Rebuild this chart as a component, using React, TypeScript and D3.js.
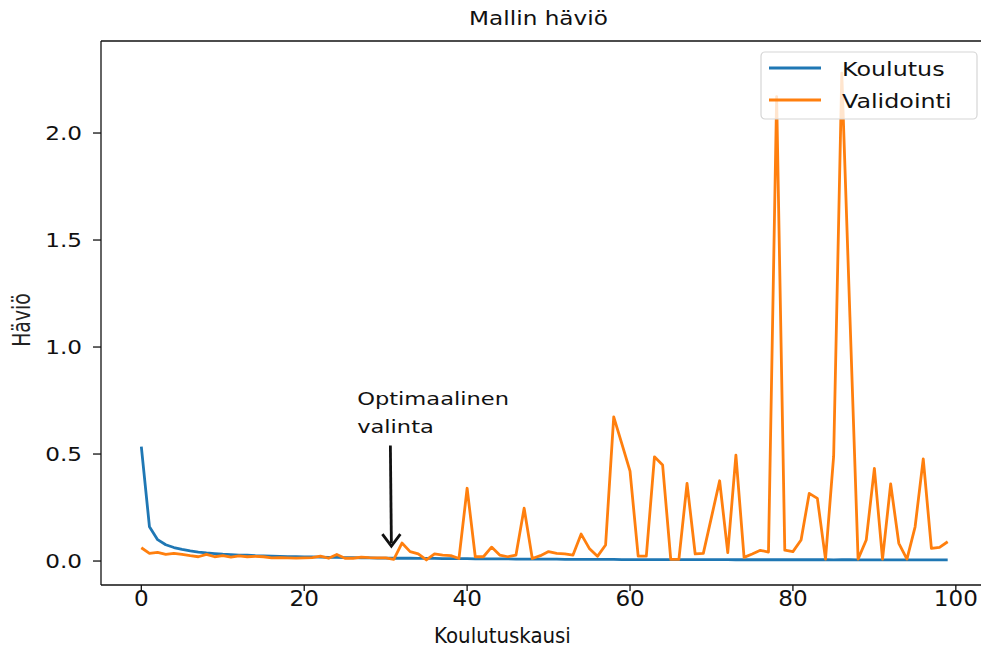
import * as d3 from "d3";

// epochs 0..99
const epochs: number[] = d3.range(100);

// training loss (Koulutus)
const trainLoss: number[] = [
  0.535, 0.16, 0.1, 0.076, 0.063, 0.054, 0.047, 0.042, 0.038, 0.035,
  0.032, 0.03, 0.028, 0.027, 0.025, 0.024, 0.023, 0.022, 0.021, 0.02,
  0.019, 0.019, 0.018, 0.017, 0.017, 0.016, 0.016, 0.015, 0.015, 0.014,
  0.014, 0.013, 0.013, 0.013, 0.012, 0.012, 0.012, 0.011, 0.011, 0.011,
  0.011, 0.01, 0.01, 0.01, 0.01, 0.01, 0.009, 0.009, 0.009, 0.009,
  0.009, 0.009, 0.008, 0.008, 0.008, 0.008, 0.008, 0.008, 0.008, 0.007,
  0.007, 0.007, 0.007, 0.007, 0.007, 0.007, 0.007, 0.007, 0.007, 0.007,
  0.007, 0.007, 0.007, 0.006, 0.006, 0.006, 0.006, 0.006, 0.007, 0.006,
  0.006, 0.006, 0.006, 0.006, 0.006, 0.005, 0.006, 0.006, 0.005, 0.005,
  0.005, 0.005, 0.005, 0.005, 0.005, 0.005, 0.005, 0.005, 0.005, 0.005,
];

// validation loss (Validointi)
const valLoss: number[] = [
  0.062, 0.036, 0.04, 0.031, 0.036, 0.031, 0.025, 0.02, 0.031, 0.02,
  0.025, 0.018, 0.024, 0.02, 0.022, 0.02, 0.015, 0.016, 0.015, 0.014,
  0.015, 0.016, 0.023, 0.013, 0.031, 0.013, 0.013, 0.018, 0.016, 0.015,
  0.015, 0.008, 0.084, 0.044, 0.033, 0.005, 0.033, 0.028, 0.025, 0.012,
  0.34, 0.02, 0.02, 0.065, 0.028, 0.02, 0.028, 0.247, 0.012, 0.025,
  0.044, 0.036, 0.033, 0.028, 0.126, 0.059, 0.022, 0.075, 0.674, 0.547,
  0.42, 0.023, 0.023, 0.487, 0.449, 0.008, 0.008, 0.363, 0.033, 0.036,
  0.205, 0.375, 0.039, 0.495, 0.017, 0.033, 0.05, 0.042, 2.17, 0.051,
  0.044, 0.098, 0.316, 0.293, 0.009, 0.49, 2.28, 1.14, 0.009, 0.098,
  0.433, 0.009, 0.36, 0.083, 0.009, 0.16, 0.477, 0.059, 0.064, 0.09,
];

const seriesNames = ["Koulutus", "Validointi"];
const seriesColors = ["#1f77b4", "#ff7f0e"];
const xTicks = [0, 20, 40, 60, 80, 100];
const yTicks = [0, 0.5, 1.0, 1.5, 2.0];

const W = 981;
const H = 649;
const left = 101;
const right = 988; // right spine falls just outside the picture
const top = 41;
const bottom = 585;
const SX = 1.22; // the picture is stretched horizontally
const FONT = "DejaVu Sans, Verdana, sans-serif";
const COND = "DejaVu Sans Condensed, Liberation Sans Narrow, DejaVu Sans, sans-serif";

export default function App() {
  const x = d3.scaleLinear().domain([-4.95, 103.95]).range([left, right]);
  const y = d3.scaleLinear().domain([-0.112, 2.43]).range([bottom, top]);

  const line = d3
    .line<number>()
    .x((_, i) => x(epochs[i]))
    .y((d) => y(d));

  const stretched = (tx: number, ty: number, extra = "") =>
    `translate(${tx},${ty}) scale(${SX},1)${extra}`;

  // annotation: optimal epoch
  const optEpoch = 30.7;
  const arrowTop = y(0.54);
  const arrowTip = y(0.07);

  return (
    <svg
      width={W}
      height={H}
      style={{ position: "absolute", left: 0, top: 0, background: "#fff" }}
    >
      <defs>
        <clipPath id="plot">
          <rect x={left} y={top} width={right - left} height={bottom - top} />
        </clipPath>
      </defs>

      {/* title */}
      <text
        transform={stretched((left + right) / 2 - 6, 25)}
        textAnchor="middle"
        fontFamily={FONT}
        fontSize={19}
        fill="#111"
      >
        Mallin häviö
      </text>

      {/* lines */}
      <g clipPath="url(#plot)" fill="none" strokeWidth={2.8} strokeLinejoin="round">
        <path d={line(trainLoss) || ""} stroke={seriesColors[0]} />
        <path d={line(valLoss) || ""} stroke={seriesColors[1]} />
      </g>

      {/* spines */}
      <g stroke="#111" strokeWidth={1.3} fill="none">
        <line x1={left} x2={left} y1={top} y2={bottom} />
        <line x1={left} x2={right} y1={top} y2={top} />
        <line x1={left} x2={right} y1={bottom} y2={bottom} />
        <line x1={right} x2={right} y1={top} y2={bottom} />
      </g>

      {/* y ticks */}
      {yTicks.map((t) => (
        <g key={"y" + t}>
          <line x1={left - 8} x2={left} y1={y(t)} y2={y(t)} stroke="#111" strokeWidth={1.3} />
          <text
            transform={stretched(82, y(t) + 7)}
            textAnchor="end"
            fontFamily={FONT}
            fontSize={19}
            fill="#111"
          >
            {d3.format(".1f")(t)}
          </text>
        </g>
      ))}

      {/* x ticks */}
      {xTicks.map((t) => (
        <g key={"x" + t}>
          <line x1={x(t)} x2={x(t)} y1={bottom} y2={bottom + 6} stroke="#111" strokeWidth={1.3} />
          <text
            transform={stretched(x(t), 606)}
            textAnchor="middle"
            fontFamily={COND}
            fontSize={21}
            fill="#111"
          >
            {t}
          </text>
        </g>
      ))}

      {/* axis labels */}
      <text
        x={(left + right) / 2 - 42}
        y={643}
        textAnchor="middle"
        fontFamily={COND}
        fontSize={22}
        fill="#111"
      >
        Koulutuskausi
      </text>
      <text
        transform={stretched(30, 320, " rotate(-90)")}
        textAnchor="middle"
        fontFamily={COND}
        fontSize={21}
        fill="#222"
      >
        Häviö
      </text>

      {/* annotation */}
      <g fontFamily={FONT} fontSize={18.5} fill="#111">
        <text transform={stretched(x(26.5), y(0.73))}>Optimaalinen</text>
        <text transform={stretched(x(26.5), y(0.73) + 28)}>valinta</text>
      </g>
      <line
        x1={x(optEpoch) - 1}
        y1={arrowTop}
        x2={x(optEpoch)}
        y2={arrowTip - 3}
        stroke="#111"
        strokeWidth={2.8}
      />
      <path
        d={`M${x(optEpoch) - 9},${arrowTip - 12} L${x(optEpoch)},${arrowTip} L${x(optEpoch) + 9},${arrowTip - 12}`}
        fill="none"
        stroke="#111"
        strokeWidth={2.8}
      />

      {/* legend */}
      <g>
        <rect
          x={761}
          y={52}
          width={216}
          height={67}
          rx={4}
          fill="#fff"
          fillOpacity={0.8}
          stroke="#d6d6d6"
          strokeWidth={1.2}
        />
        {seriesNames.map((name, i) => (
          <g key={name}>
            <line
              x1={769}
              x2={821}
              y1={68 + i * 32}
              y2={68 + i * 32}
              stroke={seriesColors[i]}
              strokeWidth={2.8}
            />
            <text
              transform={stretched(842, 68 + i * 32 + 8)}
              fontFamily={FONT}
              fontSize={19.5}
              fill="#111"
            >
              {name}
            </text>
          </g>
        ))}
      </g>
    </svg>
  );
}
